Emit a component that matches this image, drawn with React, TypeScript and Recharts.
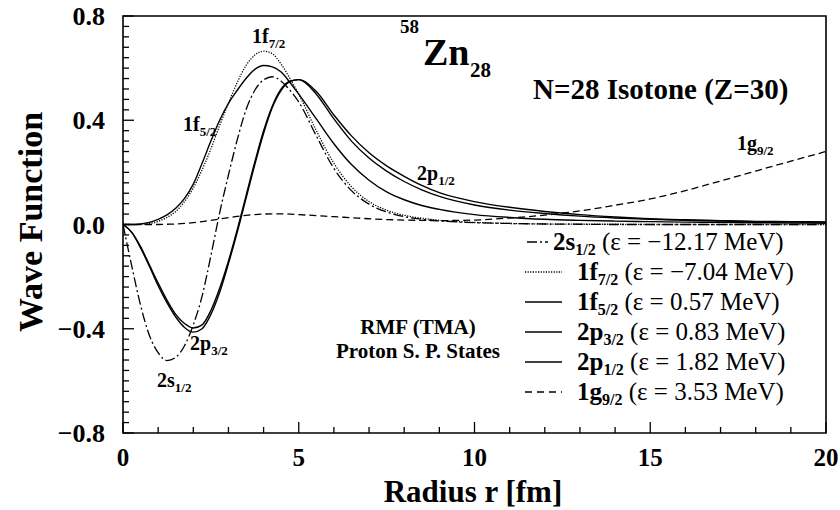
import { LineChart, Line, XAxis, YAxis, ReferenceArea } from 'recharts';

// radius grid [fm]
const radius = [0, 0.25, 0.5, 0.75, 1, 1.25, 1.5, 1.75, 2, 2.25, 2.5, 2.75, 3, 3.25, 3.5, 3.75, 4, 4.25, 4.5, 4.75, 5,
  5.5, 6, 6.5, 7, 7.5, 8, 8.5, 9,
  10, 11, 12, 13, 14, 15, 16, 17, 18, 19, 20];

const s12 = [0, -0.16, -0.31, -0.425, -0.492, -0.522, -0.51, -0.465, -0.385, -0.275, -0.12, 0.045, 0.19, 0.325, 0.44, 0.515, 0.555, 0.567, 0.55, 0.515, 0.47,
  0.34, 0.215, 0.13, 0.078, 0.048, 0.03, 0.02, 0.014,
  0.007, 0.004, 0.002, 0.001, 0, 0, 0, 0, 0, 0, 0];
const f72 = [0, 0, 0.001, 0.004, 0.012, 0.027, 0.05, 0.088, 0.14, 0.21, 0.29, 0.38, 0.465, 0.545, 0.61, 0.65, 0.665, 0.655, 0.615, 0.56, 0.5,
  0.36, 0.235, 0.145, 0.088, 0.055, 0.035, 0.024, 0.016,
  0.008, 0.004, 0.002, 0.001, 0.001, 0, 0, 0, 0, 0, 0];
const f52 = [0, 0, 0.002, 0.008, 0.02, 0.037, 0.062, 0.1, 0.155, 0.235, 0.32, 0.4, 0.465, 0.515, 0.56, 0.595, 0.61, 0.605, 0.585, 0.545, 0.5,
  0.405, 0.31, 0.23, 0.17, 0.125, 0.095, 0.073, 0.058,
  0.038, 0.027, 0.02, 0.016, 0.013, 0.011, 0.009, 0.008, 0.007, 0.006, 0.005];
const p32 = [0, -0.03, -0.09, -0.16, -0.235, -0.3, -0.355, -0.395, -0.413, -0.4, -0.345, -0.26, -0.15, -0.03, 0.1, 0.23, 0.35, 0.45, 0.515, 0.548, 0.556,
  0.5, 0.405, 0.32, 0.255, 0.205, 0.165, 0.133, 0.108,
  0.075, 0.055, 0.042, 0.032, 0.025, 0.02, 0.016, 0.013, 0.011, 0.01, 0.009];
const p12 = [0, -0.03, -0.085, -0.155, -0.225, -0.29, -0.345, -0.38, -0.397, -0.385, -0.33, -0.245, -0.14, -0.02, 0.11, 0.24, 0.36, 0.455, 0.52, 0.55, 0.556,
  0.51, 0.42, 0.34, 0.275, 0.225, 0.185, 0.15, 0.122,
  0.088, 0.066, 0.05, 0.038, 0.029, 0.022, 0.018, 0.015, 0.012, 0.011, 0.01];
const g92 = [0, 0, 0, 0, 0, 0.001, 0.002, 0.004, 0.007, 0.011, 0.016, 0.021, 0.026, 0.031, 0.035, 0.038, 0.04, 0.041, 0.041, 0.04, 0.038,
  0.034, 0.03, 0.026, 0.022, 0.019, 0.017, 0.016, 0.015,
  0.017, 0.025, 0.036, 0.052, 0.074, 0.098, 0.13, 0.167, 0.205, 0.243, 0.28];

const xMajor = [0, 5, 10, 15, 20];
const yMajor = [-0.8, -0.4, 0, 0.4, 0.8];
const yLabels = ['\u22120.8', '\u22120.4', '0.0', '0.4', '0.8'];

const xTicks = Array.from({ length: 21 }, (_, i) => i);
const yTicks = Array.from({ length: 41 }, (_, i) => Number((i * 0.04 - 0.8).toFixed(2)));

const data = radius.map((r, i) => ({
  r, s12: s12[i], f72: f72[i], f52: f52[i], p32: p32[i], p12: p12[i], g92: g92[i],
}));

const serif = '"Liberation Serif", "Times New Roman", Times, serif';

const DASH_S = '10 3 2 3';
const DOT = '1.2 1.4';
const DASH_G = '7 4';

const XTick = (props: any) => {
  const { x, y, payload } = props;
  const major = xMajor.includes(payload.value);
  return (
    <g>
      <line x1={x} x2={x} y1={y} y2={y - (major ? 11 : 6)} stroke="#000" strokeWidth={1.3} />
      {major && (
        <text x={x} y={y + 33} textAnchor="middle" fontSize={25} fontWeight="bold" fontFamily={serif}>
          {payload.value}
        </text>
      )}
    </g>
  );
};

const YTick = (props: any) => {
  const { x, y, payload } = props;
  const idx = yMajor.indexOf(payload.value);
  const major = idx >= 0;
  return (
    <g>
      <line x1={x} x2={x + (major ? 11 : 6)} y1={y} y2={y} stroke="#000" strokeWidth={1.3} />
      {major && (
        <text x={x - 18} y={y + 9} textAnchor="end" fontSize={26} fontWeight="bold" fontFamily={serif}>
          {yLabels[idx]}
        </text>
      )}
    </g>
  );
};

const Lab = ({ x, y, main, sub, size = 20 }: { x: number; y: number; main: string; sub: string; size?: number }) => (
  <text x={x} y={y} fontSize={size} fontWeight="bold" fontFamily={serif}>
    {main}
    <tspan fontSize={size * 0.65} dy={size * 0.25}>{sub}</tspan>
  </text>
);

const legendRows = [
  { name: '2s', sub: '1/2', e: '\u221212.17', dash: DASH_S, x1: 527, x2: 548, tx: 553 },
  { name: '1f', sub: '7/2', e: '\u22127.04', dash: DOT, x1: 525, x2: 562, tx: 577 },
  { name: '1f', sub: '5/2', e: '0.57', dash: undefined, x1: 525, x2: 562, tx: 577 },
  { name: '2p', sub: '3/2', e: '0.83', dash: undefined, x1: 525, x2: 562, tx: 577 },
  { name: '2p', sub: '1/2', e: '1.82', dash: undefined, x1: 525, x2: 562, tx: 577 },
  { name: '1g', sub: '9/2', e: '3.53', dash: '7 5', x1: 525, x2: 562, tx: 577 },
];

export default function App() {
  return (
    <div style={{ position: 'absolute', left: 0, top: 0, width: 840, height: 510, background: '#fff' }}>
      <LineChart width={840} height={510} data={data} margin={{ top: 16, right: 14, bottom: 47, left: 63 }}>
        <XAxis dataKey="r" type="number" domain={[0, 20]} ticks={xTicks} interval={0} tick={<XTick />}
          tickSize={0} tickMargin={0} axisLine={false} tickLine={false} height={30} allowDataOverflow />
        <YAxis type="number" domain={[-0.8, 0.8]} ticks={yTicks} interval={0} tick={<YTick />}
          tickSize={0} tickMargin={0} axisLine={false} tickLine={false} width={60} allowDataOverflow />
        <Line type="monotone" dataKey="g92" stroke="#000" strokeWidth={1.3} strokeDasharray={DASH_G} dot={false} isAnimationActive={false} />
        <Line type="monotone" dataKey="s12" stroke="#000" strokeWidth={1.3} strokeDasharray={DASH_S} dot={false} isAnimationActive={false} />
        <Line type="monotone" dataKey="f72" stroke="#000" strokeWidth={1.3} strokeDasharray={DOT} dot={false} isAnimationActive={false} />
        <Line type="monotone" dataKey="f52" stroke="#000" strokeWidth={1.4} dot={false} isAnimationActive={false} />
        <Line type="monotone" dataKey="p32" stroke="#000" strokeWidth={1.4} dot={false} isAnimationActive={false} />
        <Line type="monotone" dataKey="p12" stroke="#000" strokeWidth={1.4} dot={false} isAnimationActive={false} />
        <ReferenceArea x1={0} x2={20} y1={-0.8} y2={0.8} fill="none" fillOpacity={0} stroke="#000" strokeWidth={1.6} />
      </LineChart>
      <svg width={840} height={510} style={{ position: 'absolute', left: 0, top: 0, pointerEvents: 'none' }}>
        <text transform="translate(42,222) rotate(-90)" textAnchor="middle" fontSize={34} fontWeight="bold" fontFamily={serif}>
          Wave Function
        </text>
        <text x={473} y={502} textAnchor="middle" fontSize={31} fontWeight="bold" fontFamily={serif}>
          Radius r [fm]
        </text>

        <text fontWeight="bold" fontFamily={serif}>
          <tspan x={400} y={33} fontSize={19}>58</tspan>
          <tspan x={423} y={65} fontSize={38}>Zn</tspan>
          <tspan x={470} y={77} fontSize={21}>28</tspan>
        </text>
        <text x={533} y={99} fontSize={29} fontWeight="bold" fontFamily={serif}>N=28 Isotone (Z=30)</text>

        <Lab x={252} y={43} main="1f" sub="7/2" />
        <Lab x={183} y={131} main="1f" sub="5/2" />
        <Lab x={417} y={180} main="2p" sub="1/2" />
        <Lab x={737} y={150} main="1g" sub="9/2" />
        <Lab x={190} y={350} main="2p" sub="3/2" />
        <Lab x={157} y={387} main="2s" sub="1/2" />

        <text x={418} y={334} textAnchor="middle" fontSize={21} fontWeight="bold" fontFamily={serif}>RMF (TMA)</text>
        <text x={418} y={358} textAnchor="middle" fontSize={21} fontWeight="bold" fontFamily={serif}>Proton S. P. States</text>

        {legendRows.map((row, i) => {
          const by = 250 + i * 30;
          return (
            <g key={i}>
              <line x1={row.x1} x2={row.x2} y1={by - 8} y2={by - 8} stroke="#000" strokeWidth={1.3} strokeDasharray={row.dash} />
              <text x={row.tx} y={by} fontSize={25} fontFamily={serif}>
                <tspan fontWeight="bold">{row.name}</tspan>
                <tspan fontWeight="bold" fontSize={16} dy={5}>{row.sub}</tspan>
                <tspan dy={-5}>{` (\u03b5 = ${row.e} MeV)`}</tspan>
              </text>
            </g>
          );
        })}
      </svg>
    </div>
  );
}
